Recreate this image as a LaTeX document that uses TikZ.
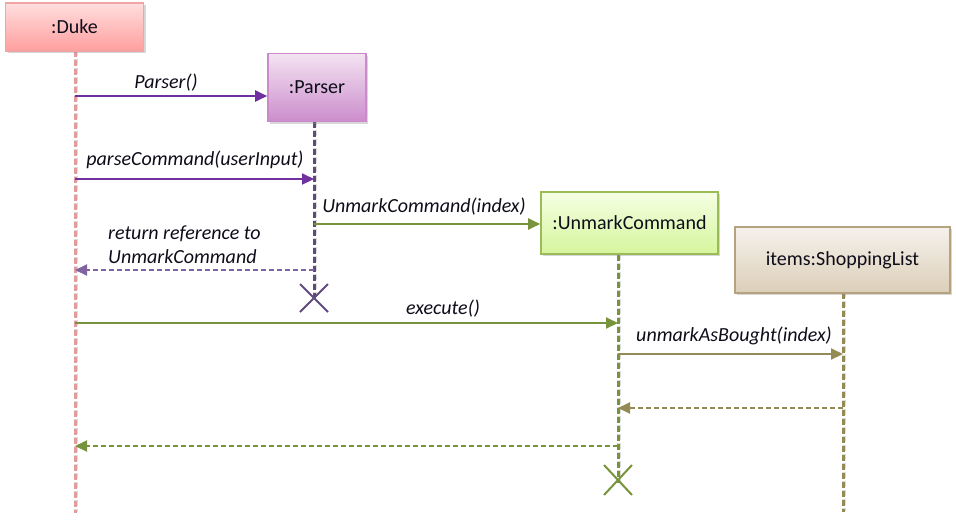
\documentclass[tikz,border=0pt]{standalone}
\usepackage{fontspec}
\setmainfont{Carlito}
\usetikzlibrary{arrows.meta,shadows}
\definecolor{dukeTop}{HTML}{FFDEDE}
\definecolor{dukeBot}{HTML}{FF9E9E}
\definecolor{dukeBorder}{HTML}{F2A3A3}
\definecolor{dukeLine}{HTML}{E39C9C}
\definecolor{parTop}{HTML}{F3E3F2}
\definecolor{parBot}{HTML}{CC8DCC}
\definecolor{parBorder}{HTML}{CB8BCB}
\definecolor{parLine}{HTML}{5F4A7D}
\definecolor{purpMsg}{HTML}{7030A0}
\definecolor{purpRet}{HTML}{8064A2}
\definecolor{cmdTop}{HTML}{F5FFE3}
\definecolor{cmdBot}{HTML}{D5F59C}
\definecolor{cmdBorder}{HTML}{9BBB59}
\definecolor{greenLine}{HTML}{77933C}
\definecolor{shopTop}{HTML}{F5F1EB}
\definecolor{shopBot}{HTML}{DCCFB9}
\definecolor{shopBorder}{HTML}{B5A27F}
\definecolor{oliveLine}{HTML}{948A54}
\definecolor{txt}{HTML}{0D0D1A}
\begin{document}
\begin{tikzpicture}[x=1pt,y=-1pt,
  >={Triangle[length=12pt,width=11pt]},
  obj/.style={draw, line width=1.6pt, font=\fontsize{20}{22}\selectfont,
    text=txt, inner sep=0pt,
    drop shadow={shadow xshift=2pt, shadow yshift=-2pt, opacity=0.35, fill=black!45}},
  lifeline/.style={line width=3pt, dash pattern=on 6pt off 3pt},
  lifeshadow/.style={line width=3.5pt, black!14, dash pattern=on 6pt off 3pt},
  msg/.style={->, line width=2pt},
  ret/.style={->, line width=2pt, dash pattern=on 5pt off 3pt},
  lbl/.style={font=\fontsize{20}{22}\selectfont\itshape, text=txt, inner sep=0pt},
  xmark/.style={line width=2pt}
]
\useasboundingbox (0,0) rectangle (956,520);

% lifeline coordinates
\coordinate (dukeTopL) at (75,51);
\coordinate (dukeEnd) at (75,513);
\coordinate (parTopL) at (314,122);
\coordinate (parEnd) at (314,298);
\coordinate (cmdTopL) at (618,255);
\coordinate (cmdEnd) at (618,483);
\coordinate (shopTopL) at (843,293);
\coordinate (shopEnd) at (843,512);

% lifelines
\draw[lifeshadow] ([xshift=1.2pt,yshift=1pt]dukeTopL) -- ([xshift=1.2pt,yshift=1pt]dukeEnd);
\draw[lifeline, dukeLine] (dukeTopL) -- (dukeEnd);
\draw[lifeshadow] ([xshift=1.2pt,yshift=1pt]parTopL) -- ([xshift=1.2pt,yshift=1pt]parEnd);
\draw[lifeline, parLine] (parTopL) -- (parEnd);
\draw[lifeshadow] ([xshift=1.2pt,yshift=1pt]cmdTopL) -- ([xshift=1.2pt,yshift=1pt]cmdEnd);
\draw[lifeline, greenLine] (cmdTopL) -- (cmdEnd);
\draw[lifeshadow] ([xshift=1.2pt,yshift=1pt]shopTopL) -- ([xshift=1.2pt,yshift=1pt]shopEnd);
\draw[lifeline, oliveLine] (shopTopL) -- (shopEnd);

% objects
\node[obj, draw=dukeBorder, top color=dukeTop, bottom color=dukeBot,
  minimum width=138pt, minimum height=48pt] (duke) at (74.5,27) {:Duke};
\node[obj, draw=parBorder, top color=parTop, bottom color=parBot,
  minimum width=98pt, minimum height=68pt] (parser) at (317,87.5) {:Parser};
\node[obj, draw=cmdBorder, top color=cmdTop, bottom color=cmdBot,
  minimum width=177pt, minimum height=62pt] (cmd) at (629.5,223) {:UnmarkCommand};
\node[obj, draw=shopBorder, top color=shopTop, bottom color=shopBot,
  minimum width=215pt, minimum height=66pt] (shop) at (842.5,260) {items:ShoppingList};

% message coordinates
\coordinate (m1s) at (75,96);
\coordinate (m2s) at (75,179);
\coordinate (m2e) at (314,179);
\coordinate (m3s) at (314,224);
\coordinate (m4s) at (314,270);
\coordinate (m4e) at (75,270);
\coordinate (m5s) at (75,323);
\coordinate (m5e) at (618,323);
\coordinate (m6s) at (618,354);
\coordinate (m6e) at (843,354);
\coordinate (m7s) at (843,408);
\coordinate (m7e) at (618,408);
\coordinate (m8s) at (618,446);
\coordinate (m8e) at (75,446);

% messages
\draw[msg, purpMsg] (m1s) -- (m1s -| parser.west);
\draw[msg, purpMsg] (m2s) -- (m2e);
\draw[msg, greenLine] (m3s) -- (m3s -| cmd.west);
\draw[ret, purpRet] (m4s) -- (m4e);
\draw[msg, greenLine] (m5s) -- (m5e);
\draw[msg, oliveLine] (m6s) -- (m6e);
\draw[ret, oliveLine] (m7s) -- (m7e);
\draw[ret, greenLine] (m8s) -- (m8e);

% labels
\node[lbl] (l1) at (166,83) {Parser()};
\node[lbl] (l2) at (195,160) {parseCommand(userInput)};
\node[lbl] (l3) at (424,207) {UnmarkCommand(index)};
\node[lbl, anchor=west] (l4a) at (108,234) {return reference to};
\node[lbl, anchor=west] (l4b) at (108,257) {UnmarkCommand};
\node[lbl] (l5) at (443,309) {execute()};
\node[lbl] (l6) at (734,336) {unmarkAsBought(index)};

% destruction marks
\draw[xmark, parLine] ([shift={(-14,-14)}]parEnd) -- ([shift={(14,14)}]parEnd)
  ([shift={(-14,14)}]parEnd) -- ([shift={(14,-14)}]parEnd);
\coordinate (cmdX) at (618,480);
\draw[xmark, greenLine] ([shift={(-14,-15)}]cmdX) -- ([shift={(14,15)}]cmdX)
  ([shift={(-14,15)}]cmdX) -- ([shift={(14,-15)}]cmdX);
\end{tikzpicture}
\end{document}
